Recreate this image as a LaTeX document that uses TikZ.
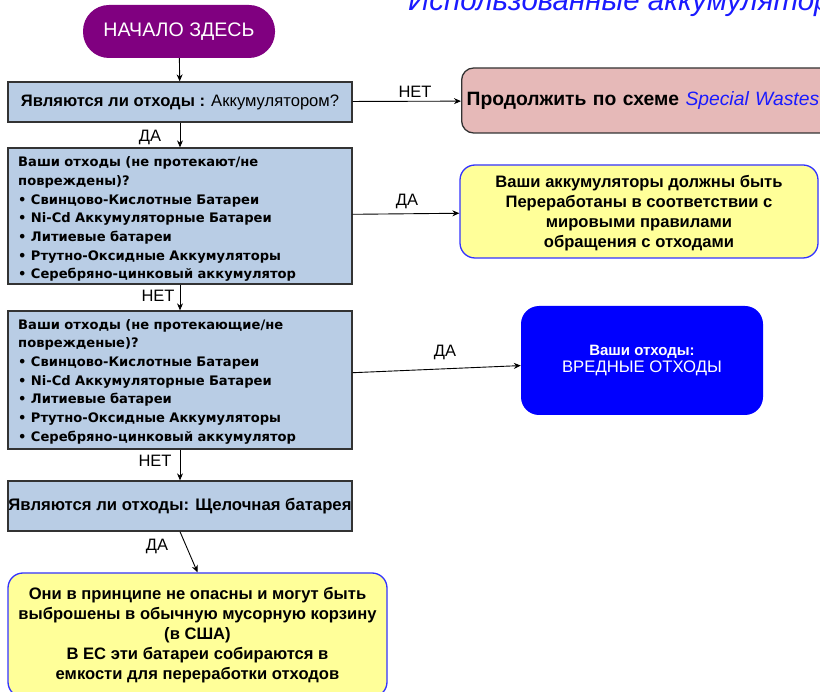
\documentclass[tikz,border=0pt]{standalone}
\usepackage{fontspec}
\setmainfont{Liberation Sans}
\newfontfamily\listfont{DejaVu Sans}
\usetikzlibrary{arrows.meta}
\definecolor{qblue}{HTML}{B9CDE5}
\definecolor{pinkfill}{HTML}{E6B9B8}
\definecolor{yfill}{HTML}{FFFF99}
\definecolor{yborder}{HTML}{3333FF}
\definecolor{startpurple}{HTML}{800080}
\definecolor{hazard}{HTML}{0000FF}
\definecolor{linkblue}{HTML}{1A1AFF}
\definecolor{edgegray}{HTML}{333333}

\begin{document}
\begin{tikzpicture}[x=1pt,y=-1pt,
  qbox/.style={draw=edgegray, line width=1.3pt, fill=qblue, rectangle,
    minimum width=344pt, inner sep=0pt},
  ybox/.style={draw=yborder, line width=1.3pt, fill=yfill, rounded corners=15pt,
    inner sep=0pt, align=center, font=\fontsize{16.6}{20}\selectfont\bfseries},
  lbl/.style={font=\fontsize{16.5}{18}\selectfont, inner sep=0pt},
  arr/.style={draw=black, line width=0.9pt, -{Stealth[length=7pt,width=6pt]}},
  listtxt/.style={text width=330pt, align=left, inner sep=0pt,
    font=\listfont\fontsize{13.1}{18.7}\selectfont\bfseries}
]
\useasboundingbox (0,0) rectangle (820,692);
\clip (0,0) rectangle (820,692);

% heading, running off the top edge
\node[anchor=base west, inner sep=0pt, text=linkblue,
  font=\fontsize{29.5}{31}\selectfont\itshape] (title) at (408,11) {Использованные аккумуляторы};

% start terminator
\node[fill=startpurple, rounded corners=26pt, minimum width=192pt, minimum height=53pt,
  inner sep=0pt, text=white, font=\fontsize{19.6}{22}\selectfont] (start) at (179,31.5) {НАЧАЛО ЗДЕСЬ};

% question boxes
\node[qbox, minimum height=40pt, font=\fontsize{16.6}{18}\selectfont] (q1) at (180,102)
  {\textbf{Являются ли отходы :} Аккумулятором?};

\node[qbox, minimum height=136pt] (q2) at (180,216) {};
\node[listtxt, anchor=north west] (q2t) at (18,156.5)
  {Ваши отходы (не протекают/не\\ повреждены)?\\
   \textbullet\ Свинцово-Кислотные Батареи\\
   \textbullet\ Ni-Cd Аккумуляторные Батареи\\
   \textbullet\ Литиевые батареи\\
   \textbullet\ Ртутно-Оксидные Аккумуляторы\\
   \textbullet\ Серебряно-цинковый аккумулятор};

\node[qbox, minimum height=138pt] (q3) at (180,380) {};
\node[listtxt, anchor=north west] (q3t) at (18,319)
  {Ваши отходы (не протекающие/не\\ поврежденые)?\\
   \textbullet\ Свинцово-Кислотные Батареи\\
   \textbullet\ Ni-Cd Аккумуляторные Батареи\\
   \textbullet\ Литиевые батареи\\
   \textbullet\ Ртутно-Оксидные Аккумуляторы\\
   \textbullet\ Серебряно-цинковый аккумулятор};

\node[qbox, minimum height=50pt, font=\fontsize{16.7}{18}\selectfont\bfseries] (q4) at (180,506)
  {Являются ли отходы: Щелочная батарея};

% outcome boxes
\node[draw=edgegray, line width=1.3pt, fill=pinkfill, rounded corners=12pt,
  minimum width=420pt, minimum height=65pt, anchor=west, inner sep=5pt,
  text width=410pt, align=left, font=\fontsize{19.3}{21}\selectfont\bfseries] (special) at (461,100.5)
  {Продолжить по схеме \textcolor{linkblue}{\mdseries\itshape Special Wastes}};

\node[ybox, minimum width=358pt, minimum height=93pt] (recycle) at (639,211.5)
  {\rule{0pt}{15pt}Ваши аккумуляторы должны быть\\ Переработаны в соответствии с\\ мировыми правилами\\ обращения с отходами};

\node[fill=hazard, rounded corners=18pt, minimum width=242pt, minimum height=109pt,
  inner sep=0pt, text=white, align=center] (hazardous) at (642,360.5)
  {{\fontsize{15}{17}\selectfont\bfseries Ваши отходы:}\\[1.5pt]
   {\fontsize{16.7}{18}\selectfont ВРЕДНЫЕ ОТХОДЫ}};

\node[ybox, minimum width=379pt, minimum height=124pt] (alkaline) at (197.5,635)
  {Они в принципе не опасны и могут быть\\ выброшены в обычную мусорную корзину\\ (в США)\\ В ЕС эти батареи собираются в\\ емкости для переработки отходов};

% connectors
\draw[arr] (start) -- (q1);
\draw[arr] (q1) -- (special);
\draw[arr] (q1) -- (q2);
\draw[arr] (q2) -- (recycle);
\draw[arr] (q2) -- (q3);
\draw[arr] (q3) -- (hazardous);
\draw[arr] (q3) -- (q4);
\draw[arr] (q4.south) -- (alkaline.north);

% connector labels
\node[lbl] (l1) at (415,92) {НЕТ};
\node[lbl] (l2) at (150,137) {ДА};
\node[lbl] (l3) at (407,201) {ДА};
\node[lbl] (l4) at (158,296) {НЕТ};
\node[lbl] (l5) at (445,352) {ДА};
\node[lbl] (l6) at (155,461) {НЕТ};
\node[lbl] (l7) at (157,546) {ДА};
\end{tikzpicture}
\end{document}
